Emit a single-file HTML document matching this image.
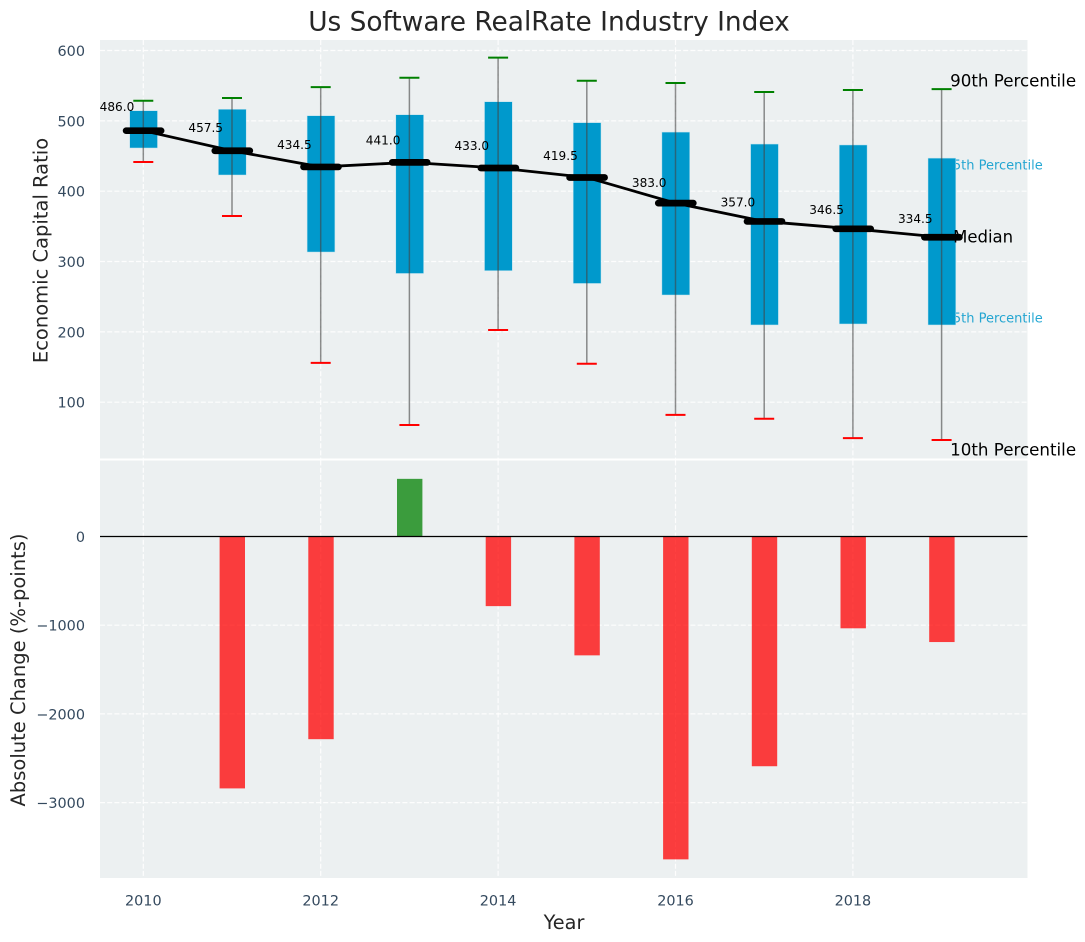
<!DOCTYPE html>
<html lang="en">
<head>
<meta charset="utf-8">
<title>Us Software RealRate Industry Index</title>
<style>
html,body{margin:0;padding:0;background:#fff;width:1085px;height:942px;overflow:hidden}
svg{display:block;font-family:"DejaVu Sans","Liberation Sans",sans-serif}
</style>
</head>
<body>
<svg id="chart" width="1085" height="942" viewBox="0 0 1085 942"></svg>
<script>
const years = [2010, 2011, 2012, 2013, 2014, 2015, 2016, 2017, 2018, 2019];
const medians = [486.0, 457.5, 434.5, 441.0, 433.0, 419.5, 383.0, 357.0, 346.5, 334.5];
const q3Values = [514.4, 516.4, 507.3, 508.7, 527.2, 497.4, 484, 467, 465.7, 447];
const q1Values = [461.4, 423, 313.5, 283, 287, 268.8, 252.4, 209.8, 211.2, 209.8];
const p90Values = [528.6, 532.5, 548, 561.3, 589.8, 557, 553.8, 541, 543.9, 545];
const p10Values = [441.5, 364.7, 155.9, 67.6, 202.6, 154.6, 82, 76.4, 49, 46.3];
const changes = [0, -2840, -2285, 650, -785, -1340, -3640, -2590, -1035, -1190];
const topTicks = [100, 200, 300, 400, 500, 600];
const bottomTicks = [-3000, -2000, -1000, 0];
const xTicks = [2010, 2012, 2014, 2016, 2018];

const NS = 'http://www.w3.org/2000/svg';
const svg = document.getElementById('chart');
const left = 100, right = 1027.5;
const topPanelTop = 40, topPanelBottom = 458.5;
const bottomPanelTop = 460.5, bottomPanelBottom = 878;

function xScale(year) { return 143.3 + (year - 2010) * 88.7; }
function yTop(v) { return 402.2 - (v - 100) * 0.7034; }
function yBottom(v) { return 536.5 - v * 0.0887; }

function mk(tag, attrs, text) {
  const el = document.createElementNS(NS, tag);
  for (const k in attrs) el.setAttribute(k, attrs[k]);
  if (text !== undefined) el.textContent = text;
  svg.appendChild(el);
  return el;
}
function fmt(v) { return v < 0 ? '\u2212' + Math.abs(v) : String(v); }

let el;

el = mk('rect', {x: left, y: topPanelTop, width: right - left, height: topPanelBottom - topPanelTop, fill: '#ecf0f1'});



el = mk('rect', {x: left, y: bottomPanelTop, width: right - left, height: bottomPanelBottom - bottomPanelTop, fill: '#ecf0f1'});



const gridStyle = {stroke: '#ffffff', 'stroke-width': 1.2, 'stroke-dasharray': '5 2.2', opacity: 0.9};

topTicks.forEach(function (t) {
  const y = yTop(t);
  const g = mk('line', Object.assign({x1: left, x2: right, y1: y, y2: y}, gridStyle));
  
  
  const lab = mk('text', {x: 85, y: y + 5.5, 'text-anchor': 'end', 'font-size': 14.4, fill: '#34495e'}, fmt(t));
  
  
});

bottomTicks.forEach(function (t) {
  const y = yBottom(t);
  if (t !== 0) {
    const g = mk('line', Object.assign({x1: left, x2: right, y1: y, y2: y}, gridStyle));
    
    
  }
  const lab = mk('text', {x: 85, y: y + 5.5, 'text-anchor': 'end', 'font-size': 14.4, fill: '#34495e'}, fmt(t));
  
  
});

xTicks.forEach(function (t) {
  const x = xScale(t);
  const g1 = mk('line', Object.assign({x1: x, x2: x, y1: topPanelTop, y2: topPanelBottom}, gridStyle));
  
  
  const g2 = mk('line', Object.assign({x1: x, x2: x, y1: bottomPanelTop, y2: bottomPanelBottom}, gridStyle));
  
  
  const lab = mk('text', {x: x, y: 905.3, 'text-anchor': 'middle', 'font-size': 14.4, fill: '#34495e'}, String(t));
  
  
});

/* Percentile annotations that sit behind the last box */
const lastX = xScale(years[years.length - 1]);
el = mk('text', {x: lastX + 3, y: 169.5, 'font-size': 13, fill: '#0099cc', opacity: 0.85}, '75th Percentile');


el = mk('text', {x: lastX + 3, y: 322.5, 'font-size': 13, fill: '#0099cc', opacity: 0.85}, '25th Percentile');



years.forEach(function (yr, i) {
  const x = xScale(yr);
  const box = mk('rect', {
    x: x - 13.6, y: yTop(q3Values[i]), width: 27.8,
    height: yTop(q1Values[i]) - yTop(q3Values[i]), fill: '#0099cc',
    stroke: '#bfe3ef', 'stroke-width': 0.5
  });
  
  

  const whisk = mk('line', {
    x1: x, x2: x, y1: yTop(p90Values[i]), y2: yTop(p10Values[i]),
    stroke: '#444444', 'stroke-width': 1.5, opacity: 0.6
  });
  
  

  const capHi = mk('line', {
    x1: x - 10, x2: x + 10, y1: yTop(p90Values[i]), y2: yTop(p90Values[i]),
    stroke: '#008000', 'stroke-width': 2
  });
  
  

  const capLo = mk('line', {
    x1: x - 10, x2: x + 10, y1: yTop(p10Values[i]), y2: yTop(p10Values[i]),
    stroke: '#ff0000', 'stroke-width': 2
  });
  
  
});

el = mk('polyline', {
  points: years.map(function (yr, i) { return xScale(yr) + ',' + yTop(medians[i]); }).join(' '),
  fill: 'none', stroke: '#000000', 'stroke-width': 2.8
});



years.forEach(function (yr, i) {
  const x = xScale(yr);
  const y = yTop(medians[i]);
  const m = mk('line', {
    x1: x - 17.2, x2: x + 17.8, y1: y, y2: y,
    stroke: '#000000', 'stroke-width': 6.7, 'stroke-linecap': 'round'
  });
  
  

  const lab = mk('text', {
    x: x - 9, y: yTop(medians[i] * 1.05) - 2.5, 'text-anchor': 'end', 'font-size': 12.1, fill: '#000000'
  }, medians[i].toFixed(1));
  
  
});

years.forEach(function (yr, i) {
  if (changes[i] === 0) return;
  const x = xScale(yr);
  const y0 = yBottom(0);
  const y1 = yBottom(changes[i]);
  const bar = mk('rect', {
    x: x - 12.4, y: Math.min(y0, y1), width: 25.4, height: Math.abs(y1 - y0),
    fill: changes[i] < 0 ? '#ff0000' : '#008000', opacity: 0.75
  });
  
  
});

el = mk('line', {x1: left, x2: right, y1: yBottom(0), y2: yBottom(0), stroke: '#000000', 'stroke-width': 1.2});



el = mk('text', {x: lastX + 8.5, y: 86.5, 'font-size': 16.7, fill: '#000000'}, '90th Percentile');



el = mk('text', {x: lastX + 8.5, y: 455.5, 'font-size': 16.7, fill: '#000000'}, '10th Percentile');



el = mk('text', {x: lastX + 11.5, y: 242.5, 'font-size': 16.5, fill: '#000000'}, 'Median');



el = mk('text', {x: 549, y: 30.5, 'text-anchor': 'middle', 'font-size': 26.4, fill: '#262626'}, 'Us Software RealRate Industry Index');



el = mk('text', {x: 564, y: 929, 'text-anchor': 'middle', 'font-size': 19.3, fill: '#262626'}, 'Year');



el = mk('text', {transform: 'translate(47.3,250.5) rotate(-90)', 'text-anchor': 'middle', 'font-size': 19.5, fill: '#262626'}, 'Economic Capital Ratio');



el = mk('text', {transform: 'translate(25,670) rotate(-90)', 'text-anchor': 'middle', 'font-size': 19.5, fill: '#262626'}, 'Absolute Change (%-points)');


</script>
</body>
</html>
